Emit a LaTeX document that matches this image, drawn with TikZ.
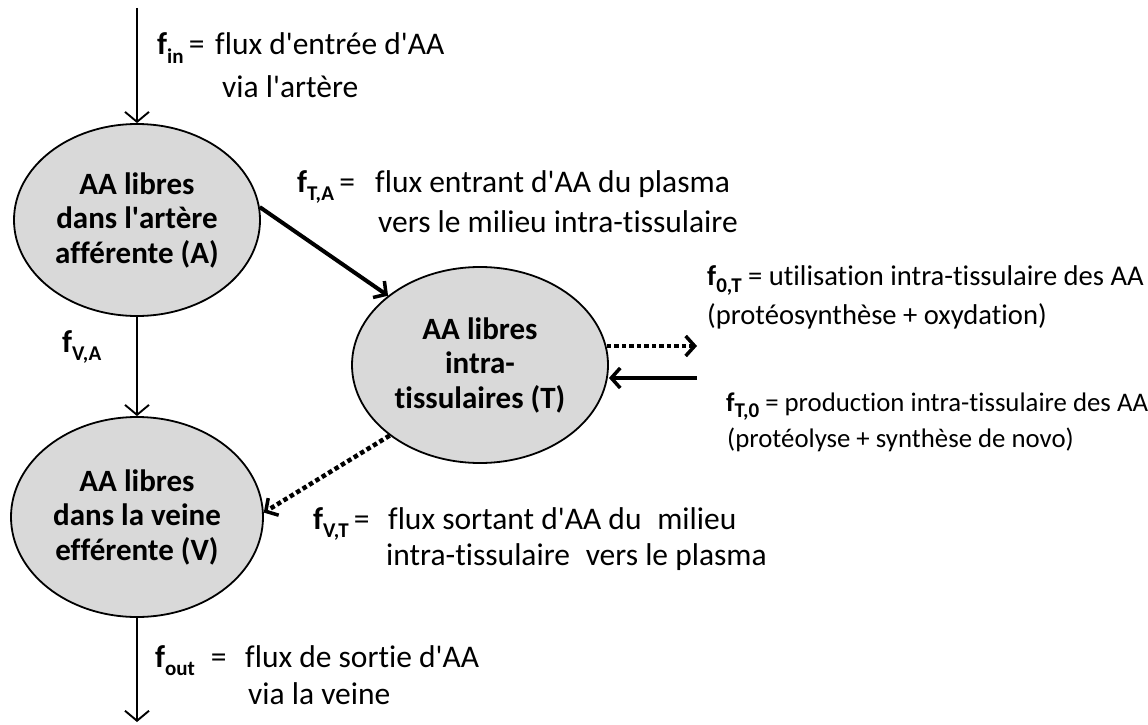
\documentclass[tikz,border=0pt]{standalone}
\usepackage{fontspec}
\newfontfamily\calfont{Carlito}[Ligatures=NoCommon]
\usetikzlibrary{arrows.meta,shapes.geometric}
\definecolor{ellfill}{HTML}{D9D9D9}
\newcommand\fl[1]{\textbf{f}\raisebox{-0.26em}{\fontsize{21}{21}\selectfont\bfseries #1}}
\newcommand\fx[2]{\makebox[#1pt][l]{#2}}
\tikzset{
  pool/.style={ellipse, draw=black, line width=1.8pt, fill=ellfill, inner sep=0pt, align=center,
    font=\calfont\fontsize{31}{34.5}\selectfont\bfseries},
  lab/.style={anchor=base west, inner sep=0pt, font=\calfont\fontsize{31.5}{36}\selectfont},
  rlab/.style={anchor=base west, inner sep=0pt, font=\calfont\fontsize{28.6}{34}\selectfont},
  slab/.style={anchor=base west, inner sep=0pt, font=\calfont\fontsize{26.8}{34}\selectfont},
  thin/.style={line width=1.9pt, -{Straight Barb[length=10pt,width=24pt,line width=1.9pt]}},
  thick/.style={line width=4pt, -{Straight Barb[length=9pt,width=20pt,line width=3.5pt]}},
  dotline/.style={line width=4.5pt, dash pattern=on 4.5pt off 3pt, -{Straight Barb[length=9pt,width=20pt,line width=3.5pt]}},
}
\begin{document}
\begin{tikzpicture}[x=1pt,y=-1pt]
\useasboundingbox (0,0) rectangle (1148,725);
% pools
\node[pool, minimum width=246pt, minimum height=192pt] (A) at (137,220) {AA libres\\dans l\textquotesingle artère\\afférente (A)};
\node[pool, minimum width=252pt, minimum height=200pt] (V) at (137,517) {AA libres\\dans la veine\\efférente (V)};
\node[pool, minimum width=256pt, minimum height=196pt] (T) at (480,365) {AA libres\\intra-\\tissulaires (T)};
% free ends
\coordinate (inS) at (137,8);
\coordinate (outE) at (137,722);
\coordinate (useE) at (697,346);
\coordinate (prodS) at (697,378);
% connectors
\draw[thin] (inS) -- (A.north);
\draw[thin] (A.south) -- (V.north);
\draw[thin] (V.south) -- (outE);
\draw[thick] (A.6) -- (T.143);
\draw[dotline] (T.east |- useE) ++(-2,0) -- (useE);
\draw[thick] (prodS) -- (T.east |- prodS);
\draw[dotline] (T.218) -- (V.2);
% labels
\node[lab] (lin1) at (157,55) {\fx{58}{\fl{in}\,=}flux d\textquotesingle entrée d\textquotesingle AA};
\node[lab] (lin2) at (222,97) {via l\textquotesingle artère};
\node[lab] (lta1) at (297,192) {\fx{78}{\fl{T,A}\,=}flux entrant d\textquotesingle AA du plasma};
\node[lab] (lta2) at (378,232) {vers le milieu intra-tissulaire};
\node[rlab] (l0t1) at (707,285) {\fl{0,T} = utilisation intra-tissulaire des AA};
\node[rlab] (l0t2) at (707,324) {(protéosynthèse + oxydation)};
\node[slab] (lt01) at (726,411) {\fl{T,0} = production intra-tissulaire des AA};
\node[slab] (lt02) at (727,447) {(protéolyse + synthèse de novo)};
\node[lab] (lva) at (62,352) {\fl{V,A}};
\node[lab] (lvt1) at (313,529) {\fx{75}{\fl{V,T}\,=}flux sortant d\textquotesingle AA du\enspace milieu};
\node[lab] (lvt2) at (386,565) {intra-tissulaire\enspace vers le plasma};
\node[lab] (lout1) at (155,667) {\fx{90}{\fl{out}\enspace=}flux de sortie d\textquotesingle AA};
\node[lab] (lout2) at (248,704) {via la veine};
\end{tikzpicture}
\end{document}
